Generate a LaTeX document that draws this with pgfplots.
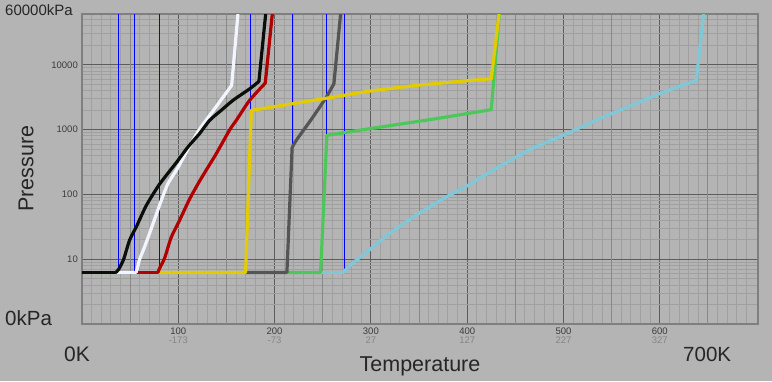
\documentclass[border=0pt]{standalone}
\usepackage{fontspec}
\setmainfont{Liberation Sans}
\usepackage{pgfplots}
\pgfplotsset{compat=1.18}
\definecolor{bg}{HTML}{B4B4B4}
\definecolor{frame}{HTML}{7F7F7F}
\definecolor{majgrid}{HTML}{5C5C5C}
\definecolor{midgrid}{HTML}{888888}
\definecolor{mingrid}{HTML}{A0A0A0}
\definecolor{ticklab}{HTML}{3C3C3C}
\definecolor{cel}{HTML}{858585}
\definecolor{cblack}{HTML}{0A0F0A}
\definecolor{cwhite}{HTML}{F2F5FF}
\definecolor{cred}{HTML}{B00000}
\definecolor{cyellow}{HTML}{E2CC00}
\definecolor{cgray}{HTML}{555555}
\definecolor{cgreen}{HTML}{4CC85A}
\definecolor{ccyan}{HTML}{80C8D8}
\definecolor{cblue}{HTML}{0000FF}
\begin{document}
\begin{tikzpicture}
\fill[bg] (0pt,0pt) rectangle (772pt,381pt);
\begin{axis}[
  at={(82pt,56.7pt)}, anchor=south west,
  scale only axis, width=676pt, height=310pt,
  xmin=0, xmax=702, ymin=1, ymax=60000, ymode=log,
  axis background/.style={fill=bg},
  axis line style={draw=frame, line width=2.3pt},
  no markers,
  every axis plot/.append style={line cap=round, line join=round},
  xtick={100,200,300,400,500,600},
  xticklabels={{100\\{\color{cel}-173}},{200\\{\color{cel}-73}},{300\\{\color{cel}27}},{400\\{\color{cel}127}},{500\\{\color{cel}227}},{600\\{\color{cel}327}}},
  minor xtick={10,20,30,40,60,70,80,90,110,120,130,140,160,170,180,190,210,220,230,240,260,270,280,290,310,320,330,340,360,370,380,390,410,420,430,440,460,470,480,490,510,520,530,540,560,570,580,590,610,620,630,640,660,670,680,690},
  ytick={10,100,1000,10000},
  yticklabels={10,100,1000,10000},
  minor ytick={2,3,4,5,6,7,8,9,20,30,40,50,60,70,80,90,200,300,400,500,600,700,800,900,2000,3000,4000,5000,6000,7000,8000,9000,20000,30000,40000,50000},
  extra x ticks={50,150,250,350,450,550,650},
  extra x tick labels={},
  extra x tick style={grid=major, major grid style={draw=midgrid, line width=1pt}},
  grid=both,
  major grid style={draw=majgrid, line width=1.2pt},
  minor grid style={draw=mingrid, line width=1pt},
  major tick length=0pt, minor tick length=0pt,
  tick label style={font=\fontsize{9.5}{8.5}\selectfont, text=ticklab},
  xticklabel style={align=center, anchor=north, inner sep=0pt, yshift=-3.5pt},
  yticklabel style={anchor=east, inner sep=0pt, xshift=-4pt},
  clip=true,
]
% triple-point markers
\addplot[cblue, line width=1pt, line cap=butt] coordinates {(38.3,6.3) (38.3,60000)};
\addplot[cblue, line width=1pt, line cap=butt] coordinates {(54.9,6.3) (54.9,60000)};
\addplot[cblue, line width=1pt, line cap=butt] coordinates {(80.9,6.3) (80.9,60000)};
\addplot[cblue, line width=1pt, line cap=butt] coordinates {(174.6,1914) (174.6,60000)};
\addplot[cblue, line width=1pt, line cap=butt] coordinates {(218.2,529) (218.2,60000)};
\addplot[cblue, line width=1pt, line cap=butt] coordinates {(253.5,817) (253.5,60000)};
\addplot[cblue, line width=1pt, line cap=butt] coordinates {(273,6.3) (273,60000)};
% cyan
\addplot[ccyan, line width=3.2pt] coordinates {(247.8,6.3) (270.9,6.3)};
\addplot[ccyan, line width=3.2pt, smooth, tension=0.4] coordinates {
(270.9,6.3) (284.8,9.75) (300.4,14.8) (319.4,25.1) (347.1,48.1) (378.3,91.9) (399.1,134) (426.7,237) (466.4,503) (499.4,817) (537.5,1476) (599.8,3580) (637.9,5730)};
\addplot[ccyan, line width=3.2pt] coordinates {(637.9,5730) (645.5,60000)};
% green
\addplot[cgreen, line width=3.2pt] coordinates {
(212.8,6.3) (247.8,6.3) (254.3,817) (298.7,1035) (361,1425) (425,2031) (433.3,60000)};
% dark gray
\addplot[cgray, line width=3.2pt] coordinates {(169.9,6.3) (212.8,6.3) (218.2,529)};
\addplot[cgray, line width=3.2pt, smooth, tension=0.4] coordinates {(218.2,529) (222.5,684) (239.8,1563) (253.7,3177) (261.6,5106)};
\addplot[cgray, line width=3.2pt] coordinates {(261.6,5106) (268.5,60000)};
% yellow
\addplot[cyellow, line width=3.2pt] coordinates {(78.8,6.3) (169.9,6.3) (175.8,1980)};
\addplot[cyellow, line width=3.2pt, smooth, tension=0.4] coordinates {(175.8,1980) (222.5,2566) (257.1,3105) (298.6,3926) (347.1,4810) (395.5,5598) (425,6095)};
\addplot[cyellow, line width=3.2pt] coordinates {(425,6095) (433.1,60000)};
% red
\addplot[cred, line width=3.2pt] coordinates {(55.7,6.3) (78.8,6.3)};
\addplot[cred, line width=3.2pt, smooth, tension=0.4] coordinates {
(78.8,6.3) (80.6,7.3) (85.8,10.5) (92.7,22) (101.3,40) (111.7,85) (122,160) (134.3,320) (139.5,428) (153.5,1000) (160.2,1390) (174,2826) (190.3,5210)};
\addplot[cred, line width=3.2pt] coordinates {(190.3,5210) (197.6,60000)};
% white
\addplot[cwhite, line width=3.2pt] coordinates {(35.3,6.3) (56,6.3)};
\addplot[cwhite, line width=3.2pt, smooth, tension=0.4] coordinates {
(56,6.3) (57.5,7.3) (59.8,10) (65,15.6) (72,30) (81.5,75) (89.2,147) (99,250) (110,500) (121.6,990) (138.7,2200) (155.4,4810)};
\addplot[cwhite, line width=3.2pt] coordinates {(155.4,4810) (161.9,60000)};
% black
\addplot[cblack, line width=3.2pt] coordinates {(0,6.3) (35,6.3)};
\addplot[cblack, line width=3.2pt, smooth, tension=0.4] coordinates {
(35,6.3) (38,7) (43.2,10) (49.4,19.8) (56.4,31.8) (66.8,68) (80.6,145) (97.9,310) (110,540) (122,867) (132.5,1390) (144.5,1980) (156.7,2826) (174.3,4276) (183.7,5530)};
\addplot[cblack, line width=3.2pt] coordinates {(183.7,5530) (190.7,60000)};
\end{axis}
\node[anchor=base west, inner sep=0pt, font=\fontsize{15}{15}\selectfont, text=black!85] at (5pt,365pt) {60000kPa};
\node[anchor=base west, inner sep=0pt, font=\fontsize{20.5}{20.5}\selectfont, text=black!85] at (5pt,56pt) {0kPa};
\node[anchor=base west, inner sep=0pt, font=\fontsize{21}{21}\selectfont, text=black!85] at (64pt,20pt) {0K};
\node[anchor=base west, inner sep=0pt, font=\fontsize{20.5}{20.5}\selectfont, text=black!85] at (683pt,20pt) {700K};
\node[anchor=base, inner sep=0pt, font=\fontsize{21.5}{21.5}\selectfont, text=black!85] at (420pt,10pt) {Temperature};
\node[anchor=base, rotate=90, inner sep=0pt, font=\fontsize{21.5}{21.5}\selectfont, text=black!85] at (33.3pt,212.5pt) {Pressure};
\pgfresetboundingbox
\useasboundingbox (0pt,0pt) rectangle (772pt,381pt);
\end{tikzpicture}
\end{document}
